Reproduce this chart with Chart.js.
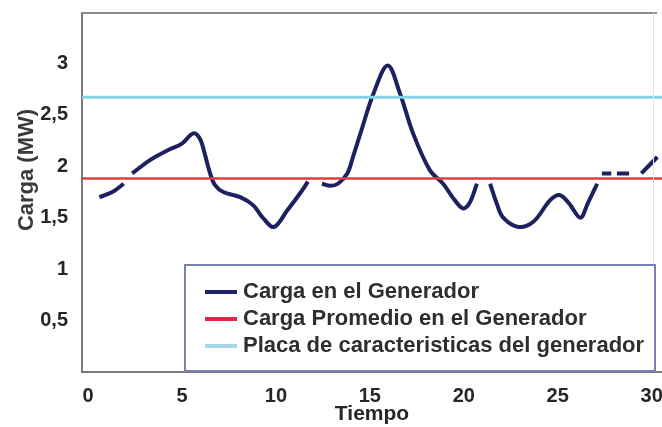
<!DOCTYPE html>
<html>
<head>
<meta charset="utf-8">
<script src="https://cdn.jsdelivr.net/npm/chart.js@4"></script>
<style>
  html, body { margin: 0; padding: 0; background: #fff; }
  #wrap { width: 662px; height: 427px; }
</style>
</head>
<body>
<div id="wrap"><canvas id="chart" width="662" height="427"></canvas></div>
<script>
// Carga del generador vs tiempo (null = corte en la curva)
var tiempo = [0.6, 1.3, 1.9, 2.1, 2.35, 3.3, 4.3, 5.0, 5.6, 5.95, 6.2, 6.5, 6.75, 7.2, 8.1, 8.8, 9.3, 9.9, 10.6, 11.3, 11.7,
    12.1, 12.45, 12.9, 13.3, 13.8, 14.1, 14.5, 15.2, 15.95, 16.6, 17.3, 18.2, 18.9, 19.4, 19.95, 20.3, 20.7,
    21.0, 21.4, 21.75, 22.1, 22.9, 23.7, 24.6, 25.1, 25.6, 26.2, 26.6, 27.1,
    27.25, 27.35, 27.85, 28.0, 28.15, 28.8, 29.1, 29.45, 30.3];
var carga = [1.70, 1.75, 1.83, null, 1.93, 2.06, 2.16, 2.22, 2.32, 2.27, 2.13, 1.93, 1.82, 1.75, 1.70, 1.62, 1.50, 1.41, 1.57, 1.74, 1.85,
    null, 1.83, 1.81, 1.83, 1.93, 2.09, 2.32, 2.71, 2.98, 2.71, 2.32, 1.96, 1.83, 1.70, 1.59, 1.64, 1.83,
    null, 1.83, 1.64, 1.50, 1.41, 1.46, 1.67, 1.72, 1.64, 1.50, 1.64, 1.83,
    null, 1.93, 1.93, null, 1.93, 1.93, null, 1.93, 2.09];
var cargaPromedio = 1.88;
var placaGenerador = 2.67;
var xTicks = [0, 5, 10, 15, 20, 25, 30];
var yTicks = [0.5, 1, 1.5, 2, 2.5, 3];
var xRange = [-0.32, 30.55];
var yRange = [0, 3.49];
var etiquetas = ['Carga en el Generador', 'Carga Promedio en el Generador', 'Placa de caracteristicas del generador'];

(function () {
    'use strict';

    var FONT = 'Arial, "Liberation Sans", sans-serif';
    var NAVY = '#1d2160';
    var RED = '#d9403f';
    var CYAN = '#86d2e2';

    var puntos = [];
    for (var i = 0; i < tiempo.length; i++) {
        puntos.push({ x: tiempo[i], y: carga[i] });
    }

    function horizontal(v) {
        return [{ x: xRange[0], y: v }, { x: xRange[1], y: v }];
    }

    // drop the label-overflow padding Chart.js reserves at the axis ends
    function noPad(scale) {
        scale.paddingTop = 0;
        scale.paddingBottom = 0;
        scale.paddingLeft = 0;
        scale.paddingRight = 0;
    }

    var framePlugin = {
        id: 'frame',
        afterDraw: function (chart) {
            var ctx = chart.ctx;
            var a = chart.chartArea;
            ctx.save();

            // top border + faint right border
            ctx.strokeStyle = '#8c8c8c';
            ctx.lineWidth = 2;
            ctx.beginPath();
            ctx.moveTo(a.left, a.top);
            ctx.lineTo(a.right - 5, a.top);
            ctx.stroke();
            ctx.strokeStyle = '#e4e4e4';
            ctx.lineWidth = 1;
            ctx.beginPath();
            ctx.moveTo(a.right - 8.5, a.top);
            ctx.lineTo(a.right - 8.5, a.bottom - 100);
            ctx.stroke();

            // y axis title
            ctx.save();
            ctx.translate(27, 170);
            ctx.rotate(-Math.PI / 2);
            ctx.fillStyle = '#3a3a3a';
            ctx.font = 'bold 22px ' + FONT;
            ctx.textAlign = 'center';
            ctx.textBaseline = 'middle';
            ctx.fillText('Carga (MW)', 0, 0);
            ctx.restore();

            // legend box
            var bx = 185, by = 265, bw = 470, bh = 106;
            ctx.fillStyle = '#ffffff';
            ctx.fillRect(bx, by, bw, bh);
            ctx.strokeStyle = '#7a7fb8';
            ctx.lineWidth = 2;
            ctx.strokeRect(bx, by, bw, bh);

            var ds = chart.data.datasets;
            ctx.font = 'bold 22px ' + FONT;
            ctx.textAlign = 'left';
            ctx.textBaseline = 'middle';
            for (var k = 0; k < ds.length; k++) {
                var y = 292 + k * 27;
                ctx.strokeStyle = ds[k].legendColor;
                ctx.lineWidth = 4;
                ctx.beginPath();
                ctx.moveTo(205, y);
                ctx.lineTo(237, y);
                ctx.stroke();
                ctx.fillStyle = '#2e2e2e';
                ctx.fillText(ds[k].label, 243, y);
            }
            ctx.restore();
        }
    };

    new Chart(document.getElementById('chart'), {
        type: 'line',
        data: {
            datasets: [
                {
                    label: etiquetas[0],
                    data: puntos,
                    borderColor: NAVY,
                    legendColor: '#20246a',
                    borderWidth: 4,
                    tension: 0.35,
                    pointRadius: 0,
                    spanGaps: false,
                    order: 2
                },
                {
                    label: etiquetas[1],
                    data: horizontal(cargaPromedio),
                    borderColor: RED,
                    legendColor: '#d42a44',
                    borderWidth: 2.5,
                    pointRadius: 0,
                    order: 1
                },
                {
                    label: etiquetas[2],
                    data: horizontal(placaGenerador),
                    borderColor: CYAN,
                    legendColor: '#a6d6e8',
                    borderWidth: 3,
                    pointRadius: 0,
                    order: 0
                }
            ]
        },
        options: {
            responsive: false,
            animation: false,
            layout: { padding: { top: 13, right: 0, left: 0, bottom: 0 } },
            plugins: {
                legend: { display: false },
                tooltip: { enabled: false }
            },
            scales: {
                x: {
                    type: 'linear',
                    min: xRange[0],
                    max: xRange[1],
                    afterBuildTicks: function (scale) {
                        scale.ticks = xTicks.map(function (v) { return { value: v }; });
                    },
                    afterFit: function (scale) { scale.height = 55; noPad(scale); },
                    ticks: {
                        color: '#262626',
                        font: { family: FONT, size: 20, weight: 'bold' },
                        padding: 12,
                        maxRotation: 0
                    },
                    grid: { display: false, drawTicks: false },
                    border: { display: true, color: '#7a7a7a', width: 2 },
                    title: {
                        display: true,
                        text: 'Tiempo',
                        color: '#262626',
                        font: { family: FONT, size: 21, weight: 'bold' },
                        padding: { top: 0, bottom: 0 }
                    }
                },
                y: {
                    type: 'linear',
                    min: yRange[0],
                    max: yRange[1],
                    afterBuildTicks: function (scale) {
                        scale.ticks = yTicks.map(function (v) { return { value: v }; });
                    },
                    afterFit: function (scale) { scale.width = 82; noPad(scale); },
                    ticks: {
                        color: '#262626',
                        font: { family: FONT, size: 20, weight: 'bold' },
                        padding: 14,
                        callback: function (v) { return String(v).replace('.', ','); }
                    },
                    grid: { display: false, drawTicks: false },
                    border: { display: true, color: '#7a7a7a', width: 2 }
                }
            }
        },
        plugins: [framePlugin]
    });
})();
</script>
</body>
</html>
